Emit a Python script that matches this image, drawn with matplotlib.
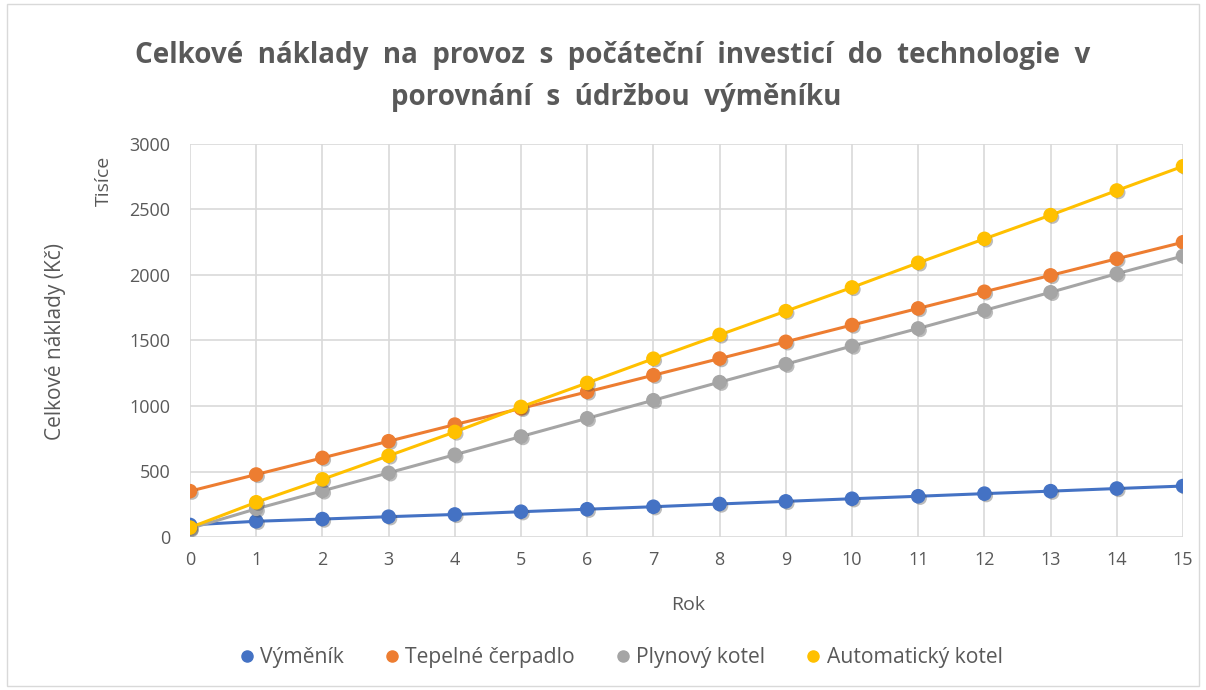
import matplotlib
matplotlib.use("Agg")
import matplotlib.pyplot as plt
import matplotlib.patheffects as pe

years = list(range(16))
vymenik = [92, 120, 137, 155, 172, 193, 212, 231, 252, 272, 292, 311, 331, 350, 370, 389]
cerpadlo = [350, 477, 604, 731, 858, 982, 1108, 1235, 1362, 1490, 1618, 1745, 1872, 1997, 2124, 2250]
plyn = [65, 215, 352, 490, 628, 767, 906, 1044, 1182, 1319, 1458, 1592, 1730, 1868, 2010, 2145]
automat = [72, 265, 440, 620, 802, 993, 1176, 1361, 1543, 1724, 1905, 2093, 2276, 2457, 2645, 2830]
series_names = ["Výměník", "Tepelné čerpadlo", "Plynový kotel", "Automatický kotel"]
yticks = [0, 500, 1000, 1500, 2000, 2500, 3000]

colors = ["#4472C4", "#ED7D31", "#A5A5A5", "#FFC000"]
txt = "#595959"
plt.rcParams['font.family'] = ['Open Sans', 'DejaVu Sans']

fig = plt.figure(figsize=(12.06, 6.9), dpi=100)
fig.patches.append(plt.Rectangle((0.006, 0.006), 0.988, 0.988, transform=fig.transFigure,
                                 fill=False, edgecolor="#D9D9D9", linewidth=1))
ax = fig.add_axes([190/1206, 1-537/690, (1183-190)/1206, (537-144)/690])

for vals, name, c in zip([vymenik, cerpadlo, plyn, automat], series_names, colors):
    ax.plot(years, vals, color=c, linewidth=2.2, zorder=3)
    ax.plot(years, vals, linestyle="none", marker="o", markersize=9.5,
            markerfacecolor=c, markeredgecolor=c, label=name, zorder=3,
            path_effects=[pe.SimplePatchShadow(offset=(1.5, -1.5), shadow_rgbFace="#404040",
                                               alpha=0.35), pe.Normal()])

ax.set_xlim(0, 15)
ax.set_ylim(0, 3000)
ax.set_xticks(years)
ax.set_yticks(yticks)
ax.grid(True, color="#D9D9D9", linewidth=1.2)
ax.set_axisbelow(True)
for s in ax.spines.values():
    s.set_visible(False)
ax.tick_params(length=0, colors=txt, labelsize=13)
ax.tick_params(axis='y', pad=14)
ax.tick_params(axis='x', pad=10)
for lab in ax.get_xticklabels() + ax.get_yticklabels():
    lab.set_color(txt)

fig.text(688/1206, 1-605/690, "Rok", ha="center", va="center", fontsize=14, color=txt)
fig.text(56/1206, 1-341/690, "Celkové náklady (Kč)", ha="center", va="center", rotation=90,
         fontsize=15, color=txt)
fig.text(104/1206, 1-181/690, "Tisíce", ha="center", va="center", rotation=90,
         fontsize=14, color=txt)

fig.text(613/1206, 1-55/690, "Celkové  náklady  na  provoz  s  počáteční  investicí  do  technologie  v",
         ha="center", va="center", fontsize=20, fontweight="bold", color=txt)
fig.text(616/1206, 1-97/690, "porovnání  s  údržbou  výměníku",
         ha="center", va="center", fontsize=20, fontweight="bold", color=txt)

leg = fig.legend(loc="center", bbox_to_anchor=(622/1206, 1-658/690), ncol=4, frameon=False,
                 fontsize=15.2, handlelength=0.5, handletextpad=0.4, columnspacing=2.0,
                 labelcolor=txt)
for h in leg.legend_handles:
    h.set_linestyle("none")
    h.set_markersize(8)
    h.set_path_effects([])

fig.savefig("out.png", dpi=100)
